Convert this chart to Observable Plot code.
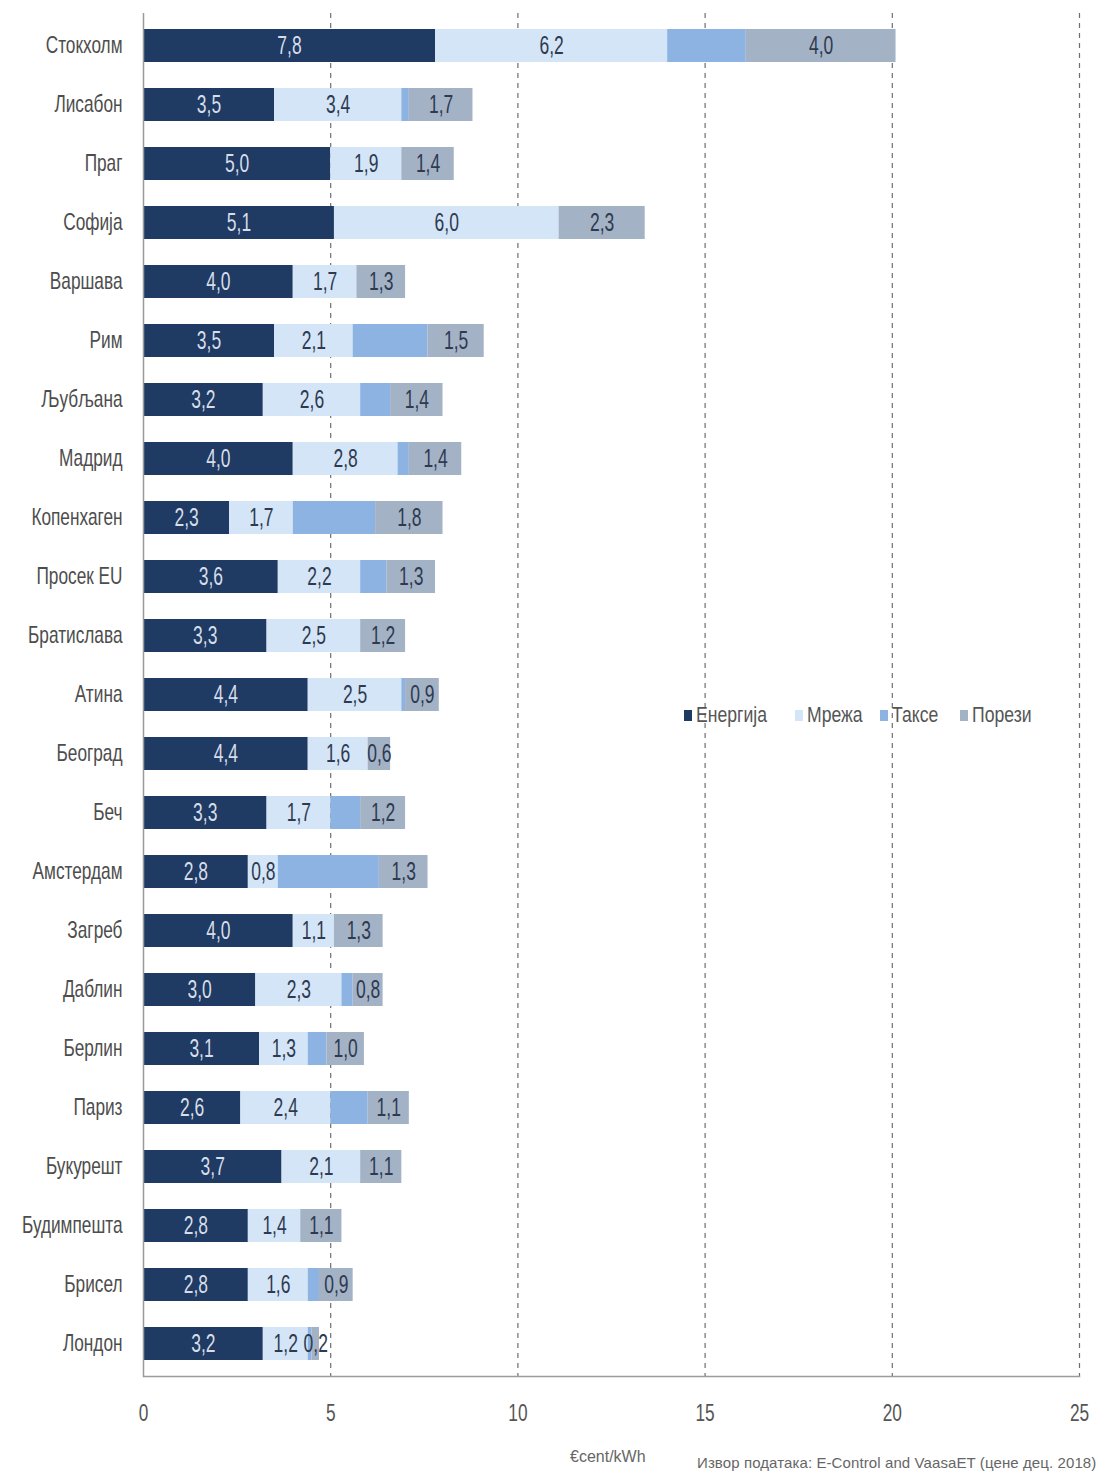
<!DOCTYPE html>
<html>
<head>
<meta charset="utf-8">
<script src="https://cdn.jsdelivr.net/npm/d3@7"></script>
<script src="https://cdn.jsdelivr.net/npm/@observablehq/plot@0.6"></script>
<style>
  html, body { margin: 0; padding: 0; background: #fff; }
  #wrap { position: relative; width: 1109px; height: 1474px; overflow: hidden; font-family: "Liberation Sans", Arial, sans-serif; }
  #legend { position: absolute; left: 684px; top: 702px; display: flex; align-items: center; color: #555; font-size: 22px; }
  .item { display: flex; align-items: center; flex: none; }
  .sw { width: 8px; height: 11px; margin-right: 4px; flex: none; }
  .lt { display: inline-block; transform: scaleX(0.8); transform-origin: left center; white-space: nowrap; }
  #unit { position: absolute; left: 570px; top: 1448px; font-size: 16px; color: #666; white-space: nowrap; }
  #source { position: absolute; left: 697px; top: 1454px; font-size: 15px; letter-spacing: 0.1px; color: #666; white-space: nowrap; }
</style>
</head>
<body>
<div id="wrap"></div>
<script>
const cities = ["Стокхолм","Лисабон","Праг","Софија","Варшава","Рим","Љубљана","Мадрид","Копенхаген","Просек EU","Братислава","Атина","Београд","Беч","Амстердам","Загреб","Даблин","Берлин","Париз","Букурешт","Будимпешта","Брисел","Лондон"];
const seriesNames = ["Енергија","Мрежа","Таксе","Порези"];
const energy  = [7.8,3.5,5.0,5.1,4.0,3.5,3.2,4.0,2.3,3.6,3.3,4.4,4.4,3.3,2.8,4.0,3.0,3.1,2.6,3.7,2.8,2.8,3.2];
const network = [6.2,3.4,1.9,6.0,1.7,2.1,2.6,2.8,1.7,2.2,2.5,2.5,1.6,1.7,0.8,1.1,2.3,1.3,2.4,2.1,1.4,1.6,1.2];
const fees    = [2.1,0.2,0.0,0.0,0.0,2.0,0.8,0.3,2.2,0.7,0.0,0.1,0.0,0.8,2.7,0.0,0.3,0.5,1.0,0.0,0.0,0.3,0.1];
const taxes   = [4.0,1.7,1.4,2.3,1.3,1.5,1.4,1.4,1.8,1.3,1.2,0.9,0.6,1.2,1.3,1.3,0.8,1.0,1.1,1.1,1.1,0.9,0.2];
const xTicks = [0,5,10,15,20,25];
const gridTicks = [5,10,15,20,25];
const colors = ["#1f3a63","#d4e5f7","#8db3e2","#a4b2c6"];
const unitLabel = "€cent/kWh";
const sourceLabel = "Извор података: E-Control and VaasaET (цене дец. 2018)";

const seriesArrays = [energy, network, fees, taxes];
const rows = cities.flatMap((city, i) => seriesArrays.map((arr, k) => ({city, series: seriesNames[k], value: arr[i]})));
const fmt = v => d3.format(".1f")(v).replace(".", ",");

const chart = Plot.plot({
  width: 1109,
  height: 1474,
  marginTop: 13,
  marginBottom: 98,
  marginLeft: 143,
  marginRight: 30,
  style: {fontFamily: "'Liberation Sans', Arial, sans-serif", background: "white"},
  x: {domain: [0, 25]},
  y: {domain: cities, paddingInner: 0.44, paddingOuter: 0.245},
  color: {domain: seriesNames, range: colors},
  marks: [
    Plot.ruleX(gridTicks, {stroke: "#6e6e6e", strokeDasharray: "5,5", strokeWidth: 1.2}),
    Plot.barX(rows, Plot.stackX({x: "value", y: "city", fill: "series"})),
    Plot.text(rows, Plot.stackX({x: "value", y: "city", text: d => d.series === "Енергија" ? fmt(d.value) : null, fill: "#d6dde8", fontSize: 25})),
    Plot.text(rows, Plot.stackX({x: "value", y: "city", text: d => (d.series === "Мрежа" || d.series === "Порези") ? fmt(d.value) : null, fill: "#2e3a50", fontSize: 25})),
    Plot.ruleX([0], {stroke: "#9a9a9a", strokeWidth: 1.5}),
    Plot.frame({anchor: "bottom", stroke: "#9a9a9a", strokeWidth: 1.5}),
    Plot.axisY({tickSize: 0, tickPadding: 21, fontSize: 23, fill: "#4d4d4d", label: null}),
    Plot.axisX({ticks: xTicks, tickSize: 0, tickPadding: 27, fontSize: 24, fill: "#555", label: null, tickFormat: d => String(d)})
  ]
});

function squeeze(fontSize, s) {
  chart.querySelectorAll(`g[font-size="${fontSize}"] text`).forEach(el => {
    const xa = el.getAttribute("x");
    const x = xa && /^-?[\d.]+$/.test(xa) ? +xa : 0;
    const t = el.getAttribute("transform") || "";
    el.setAttribute("transform", `${t} translate(${x},0) scale(${s},1) translate(${-x},0)`);
  });
}
squeeze(25, 0.7);
squeeze(23, 0.75);
squeeze(24, 0.72);

const wrap = document.getElementById("wrap");
wrap.appendChild(chart);

const legendWidths = [111, 85, 80, 90];
const legend = document.createElement("div");
legend.id = "legend";
seriesNames.forEach((name, k) => {
  const item = document.createElement("div");
  item.className = "item";
  item.style.width = legendWidths[k] + "px";
  const sw = document.createElement("span");
  sw.className = "sw";
  sw.style.background = colors[k];
  const lt = document.createElement("span");
  lt.className = "lt";
  lt.textContent = name;
  item.appendChild(sw);
  item.appendChild(lt);
  legend.appendChild(item);
});
wrap.appendChild(legend);

const unit = document.createElement("div");
unit.id = "unit";
unit.textContent = unitLabel;
wrap.appendChild(unit);
const src = document.createElement("div");
src.id = "source";
src.textContent = sourceLabel;
wrap.appendChild(src);
</script>
</body>
</html>
